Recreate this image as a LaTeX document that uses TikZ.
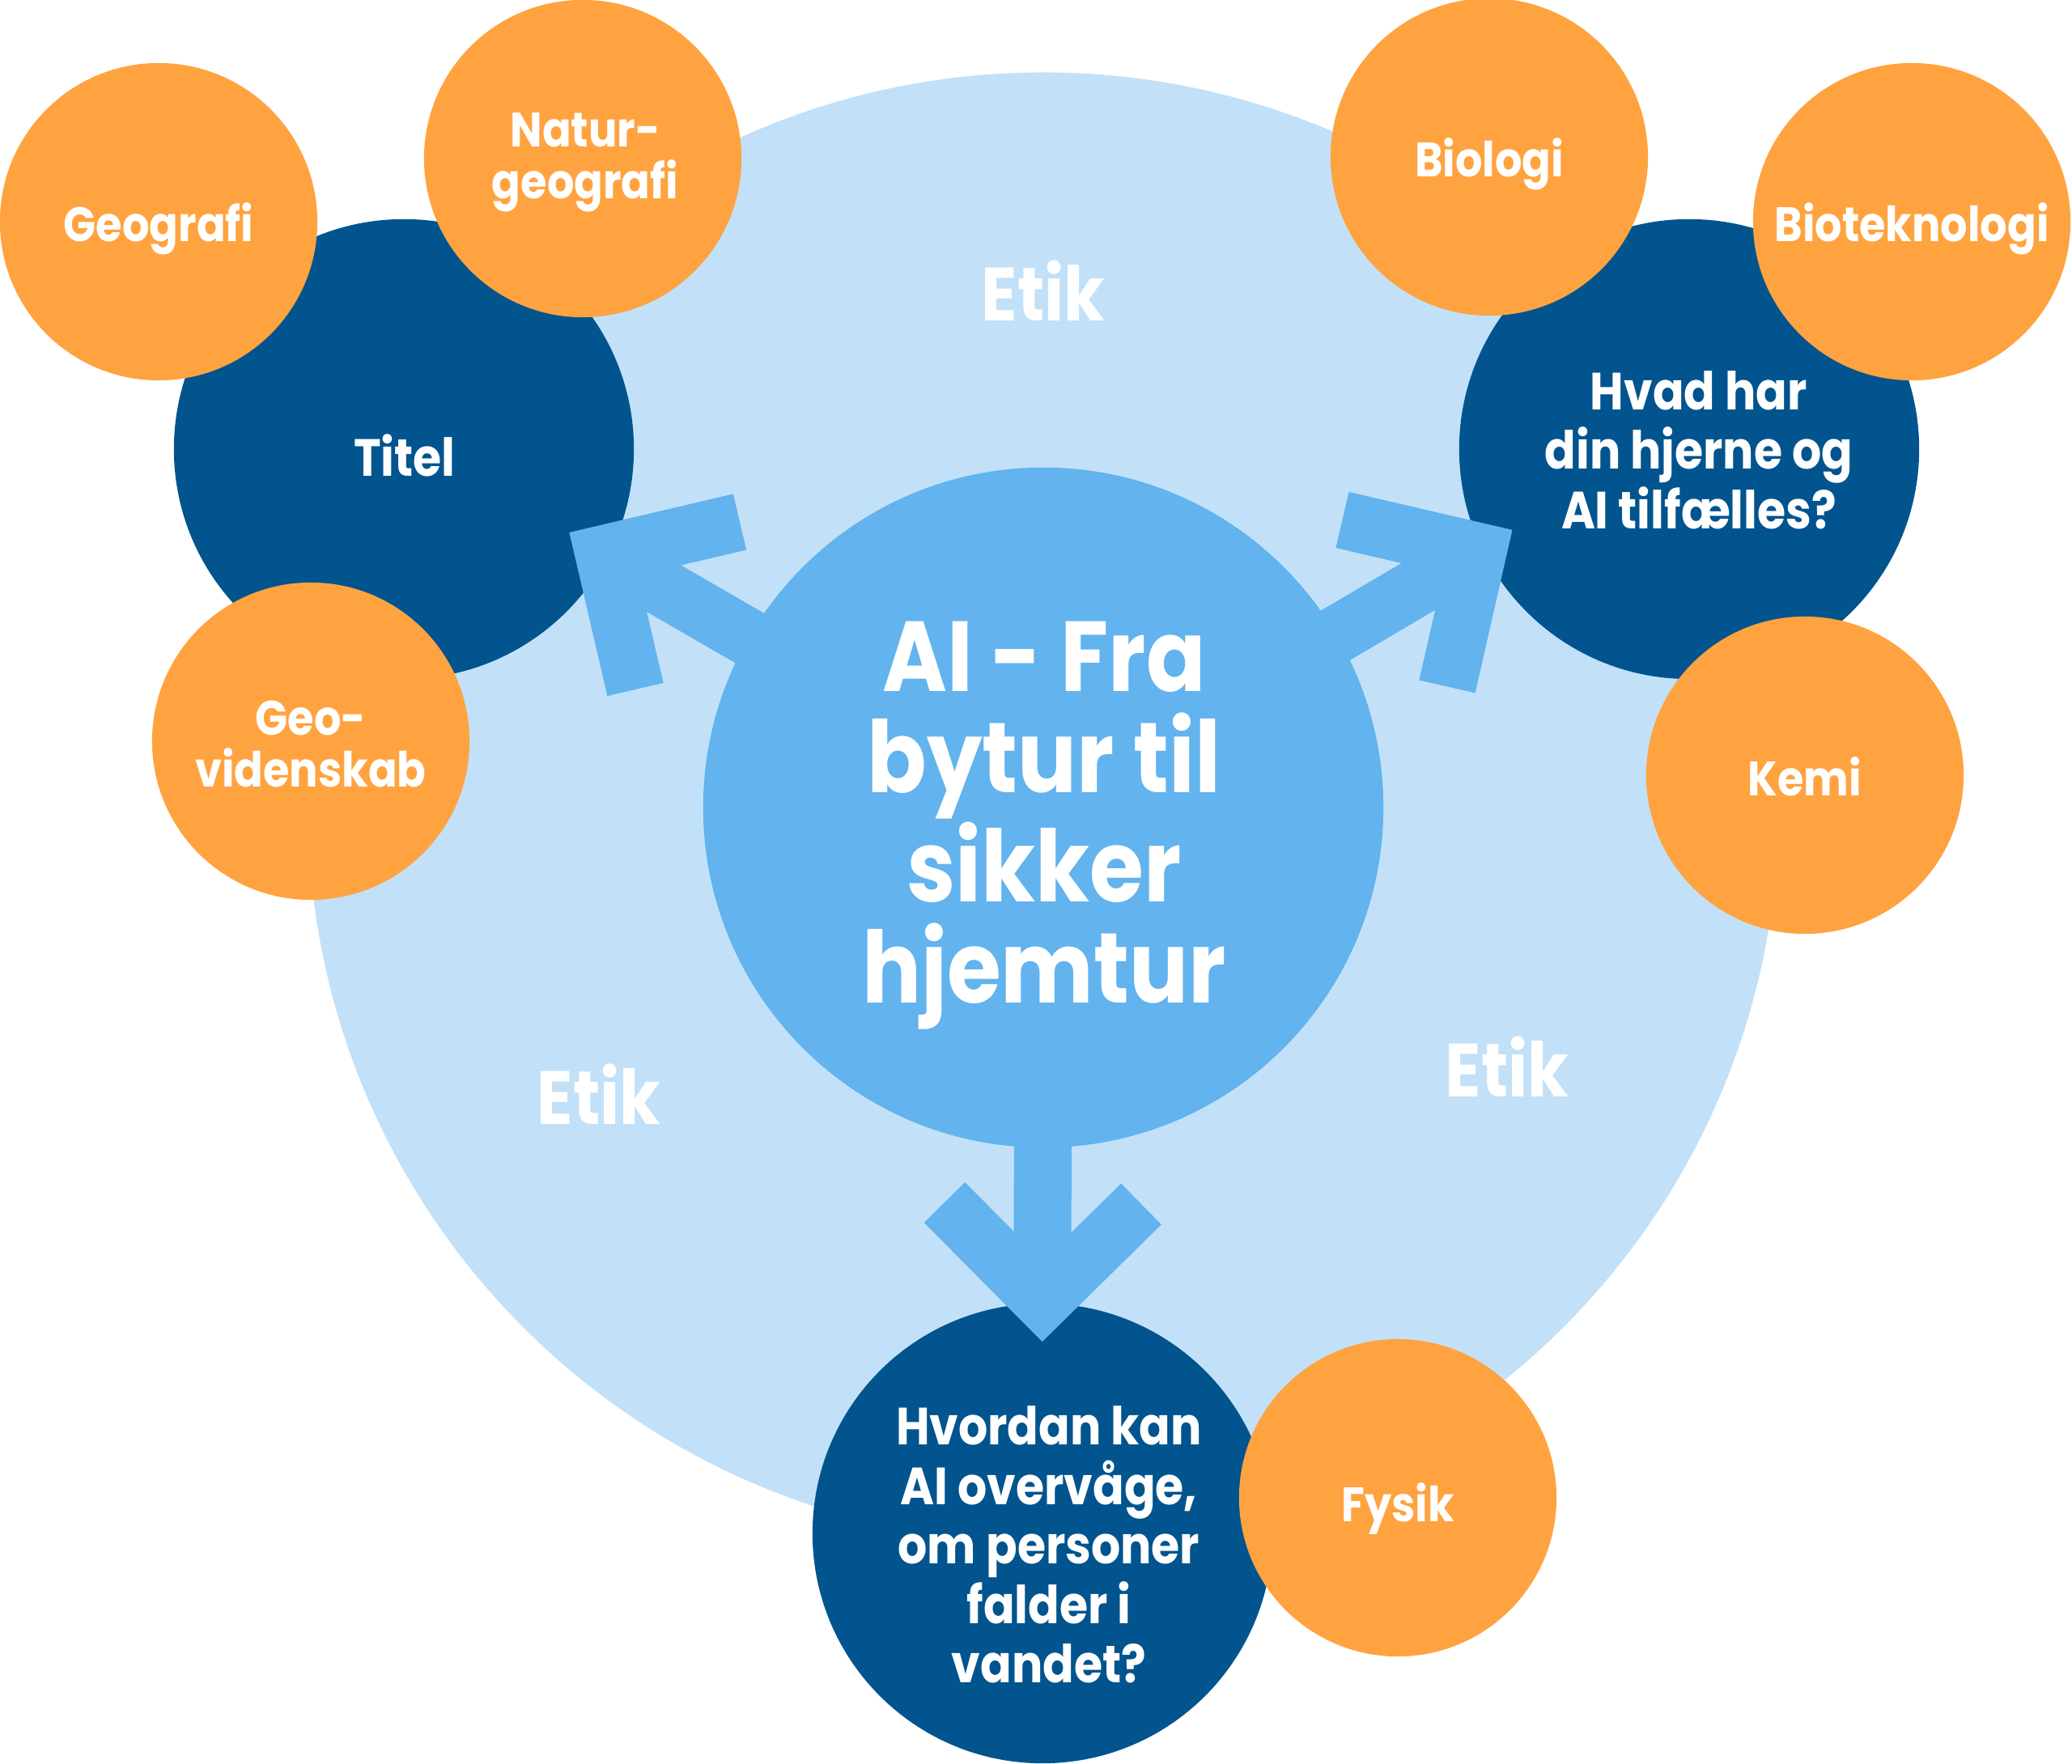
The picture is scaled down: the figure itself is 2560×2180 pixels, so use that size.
\documentclass[tikz,border=0pt]{standalone}
\usepackage{fontspec}
\setmainfont{Poppins}[FakeStretch=0.88]
\usetikzlibrary{calc}
\definecolor{bgblue}{HTML}{C2E1F8}
\definecolor{midblue}{HTML}{62B3EE}
\definecolor{darkblue}{HTML}{01548E}
\definecolor{orng}{HTML}{FFA340}
\begin{document}
\begin{tikzpicture}[x=0.01cm,y=-0.01cm,
  ringc/.style={circle,fill=bgblue,minimum size=18.16cm,inner sep=0pt},
  hubc/.style={circle,fill=midblue,minimum size=8.4cm,inner sep=0pt},
  topic/.style={circle,fill=darkblue,minimum size=5.68cm,inner sep=0pt},
  subj/.style={circle,fill=orng,minimum size=3.92cm,inner sep=0pt},
  hubtxt/.style={text=white,align=center,inner sep=0pt,font=\fontsize{35}{35.6}\selectfont\bfseries},
  topictxt/.style={text=white,align=center,inner sep=0pt,font=\fontsize{18.4}{20.9}\selectfont\bfseries},
  subjtxt/.style={text=white,align=center,inner sep=0pt,font=\fontsize{17}{18.2}\selectfont\bfseries},
  etiktxt/.style={text=white,inner sep=0pt,font=\fontsize{26.5}{28}\selectfont\bfseries},
  arrowline/.style={draw=midblue,line width=0.71cm,line join=miter,line cap=butt},
]
\useasboundingbox (0,0) rectangle (2560,2180);

% big background circle
\node[ringc] (ring) at (1289,998) {};

% question circles
\node[topic] (titel) at (499,555) {};
\node[topic] (brain) at (2087,555) {};
\node[topic] (water) at (1288,1895) {};

% hub circle
\node[hubc] (hub) at (1289,998) {};

% arrow tips (corner of the chevron centre line) and arm ends
\coordinate (tL) at (746,684.5);
\coordinate (aL1) at (914,645);
\coordinate (aL2) at (785,852);
\coordinate (tR) at (1826,681.5);
\coordinate (aR1) at (1658.5,642.5);
\coordinate (aR2) at (1788,848.5);
\coordinate (tB) at (1288,1608);
\coordinate (aB1) at (1167,1486);
\coordinate (aB2) at (1410,1488);

\draw[arrowline,shorten <=-0.1cm] (hub) -- (tL);
\draw[arrowline] (aL1) -- (tL) -- (aL2);
\draw[arrowline,shorten <=-0.1cm] (hub) -- (tR);
\draw[arrowline] (aR1) -- (tR) -- (aR2);
\draw[arrowline,shorten <=-0.1cm] (hub) -- (tB);
\draw[arrowline] (aB1) -- (tB) -- (aB2);

% hub text
\node[hubtxt] (hubt) at (1290,1020) {AI - Fra\\bytur til\\sikker\\hjemtur};

% question texts
\node[topictxt] (titelt) at (500,563) {Titel};
\node[topictxt] (braint) at (2099,556) {Hvad har\\din hjerne og\\AI tilfælles?};
\node[topictxt] (watert) at (1296,1909) {Hvordan kan\\AI overvåge,\\om personer\\falder i\\vandet?};

% Etik labels
\node[etiktxt] (etik1) at (1289,359) {Etik};
\node[etiktxt] (etik2) at (740,1352) {Etik};
\node[etiktxt] (etik3) at (1862,1318) {Etik};

% subject circles
\node[subj] (geo) at (196,274) {};
\node[subj] (natgeo) at (720,196) {};
\node[subj] (geovid) at (384,916) {};
\node[subj] (bio) at (1840,194) {};
\node[subj] (biotek) at (2362,274) {};
\node[subj] (kemi) at (2230,958) {};
\node[subj] (fysik) at (1727,1851) {};

\node[subjtxt] (geot) at (196,283) {Geografi};
\node[subjtxt] (natgeot) at (723,201) {Natur-\\geografi};
\node[subjtxt] (geovidt) at (384,920) {Geo-\\videnskab};
\node[subjtxt] (biot) at (1840,203) {Biologi};
\node[subjtxt] (biotekt) at (2362,283) {Bioteknologi};
\node[subjtxt] (kemit) at (2230,960) {Kemi};
\node[subjtxt] (fysikt) at (1727,1864) {Fysik};
\end{tikzpicture}
\end{document}
